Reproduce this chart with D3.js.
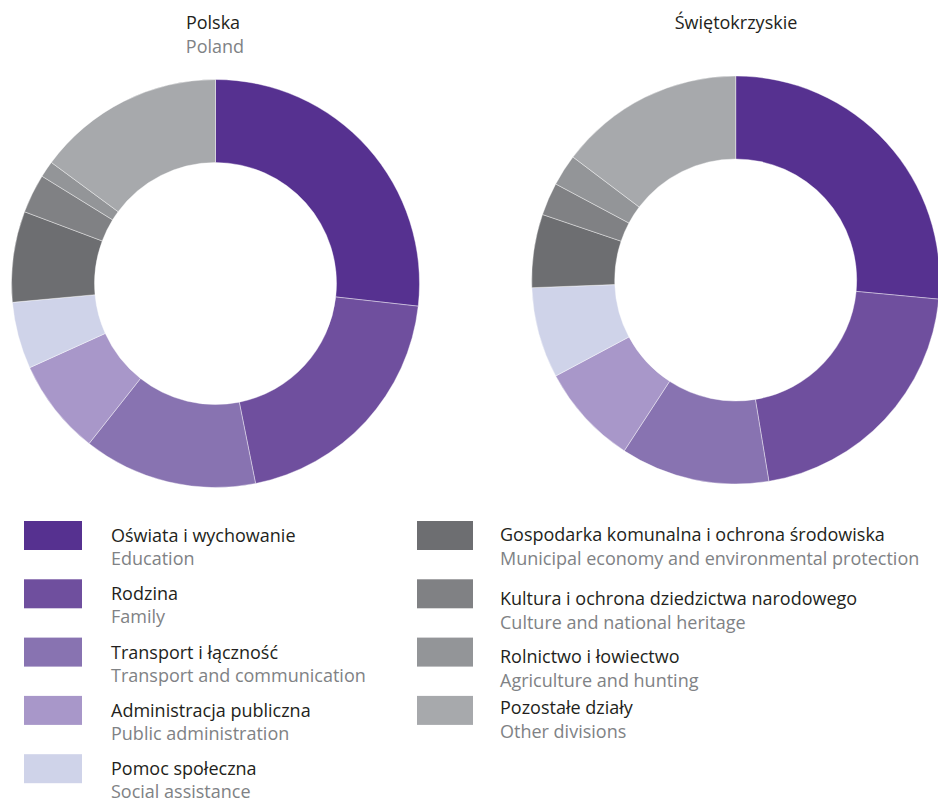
<!DOCTYPE html>
<html>
<head>
<meta charset="utf-8">
<script src="https://cdn.jsdelivr.net/npm/d3@7"></script>
<style>
  body { margin: 0; background: #fff; }
  text { font-family: "Open Sans", sans-serif; }
</style>
</head>
<body>
<script>
var categoriesPl = ['Oświata i wychowanie', 'Rodzina', 'Transport i łączność',
  'Administracja publiczna', 'Pomoc społeczna',
  'Gospodarka komunalna i ochrona środowiska',
  'Kultura i ochrona dziedzictwa narodowego', 'Rolnictwo i łowiectwo',
  'Pozostałe działy'];
var categoriesEn = ['Education', 'Family', 'Transport and communication',
  'Public administration', 'Social assistance',
  'Municipal economy and environmental protection',
  'Culture and national heritage', 'Agriculture and hunting',
  'Other divisions'];

// shares of expenditure, %
var polandValues = [26.8, 20.1, 13.8, 7.6, 5.3, 7.2, 3.1, 1.3, 14.9];
var swietokrzyskieValues = [26.5, 20.9, 11.8, 8.0, 7.2, 5.8, 2.6, 2.5, 14.7];

var colors = ['#563190', '#6f4f9e', '#8873b1', '#a897c9', '#cfd3e9',
  '#6d6e71', '#808184', '#939598', '#a7a9ac'];

var width = 938;
var height = 800;
var outerR = 204;
var innerR = 121;
var fontSize = 18;

var svg = d3.select('body').append('svg')
  .attr('width', width)
  .attr('height', height);

var color = d3.scaleOrdinal()
  .domain(categoriesPl)
  .range(colors);

var pie = d3.pie().sort(null).value(function(d) { return d.value; });
var arc = d3.arc().innerRadius(innerR).outerRadius(outerR);

function donut(values, cx, cy) {
  var data = values.map(function(v, i) {
    return { name: categoriesPl[i], value: v };
  });
  var g = svg.append('g')
    .attr('transform', 'translate(' + cx + ',' + cy + ')');
  g.selectAll('path')
    .data(pie(data))
    .enter().append('path')
    .attr('d', arc)
    .attr('fill', function(d) { return color(d.data.name); })
    .attr('stroke', '#fff')
    .attr('stroke-width', 0.4);
}

donut(polandValues, 215.5, 283.5);
donut(swietokrzyskieValues, 735.7, 280);

// titles
svg.append('text')
  .attr('x', 213).attr('y', 29)
  .attr('text-anchor', 'middle')
  .attr('font-size', fontSize)
  .attr('fill', '#231f20')
  .text('Polska');
svg.append('text')
  .attr('x', 215).attr('y', 53)
  .attr('text-anchor', 'middle')
  .attr('font-size', fontSize)
  .attr('fill', '#808285')
  .text('Poland');
svg.append('text')
  .attr('x', 736).attr('y', 29)
  .attr('text-anchor', 'middle')
  .attr('font-size', fontSize)
  .attr('fill', '#231f20')
  .text('Świętokrzyskie');

// legend, two columns
var rowY = d3.scaleLinear().domain([0, 1]).range([521, 579.3]);
var nudge = [0, 6, 5, -2];

var legend = svg.selectAll('.legend')
  .data(categoriesPl)
  .enter().append('g')
  .attr('class', 'legend')
  .attr('transform', function(d, i) {
    var col = i < 5 ? 0 : 1;
    var row = col ? i - 5 : i;
    return 'translate(' + (col ? 417 : 24) + ',' + rowY(row) + ')';
  });

legend.append('rect')
  .attr('width', function(d, i) { return i < 5 ? 58 : 56; })
  .attr('height', 29)
  .attr('fill', function(d) { return color(d); });

legend.append('text')
  .attr('x', function(d, i) { return i < 5 ? 87 : 83; })
  .attr('y', function(d, i) { return i < 5 ? 21 : 20 + nudge[i - 5]; })
  .attr('font-size', fontSize)
  .attr('fill', '#231f20')
  .text(function(d) { return d; });

legend.append('text')
  .attr('x', function(d, i) { return i < 5 ? 87 : 83; })
  .attr('y', function(d, i) { return i < 5 ? 44 : 44 + nudge[i - 5]; })
  .attr('font-size', fontSize)
  .attr('fill', '#808285')
  .text(function(d, i) { return categoriesEn[i]; });
</script>
</body>
</html>
